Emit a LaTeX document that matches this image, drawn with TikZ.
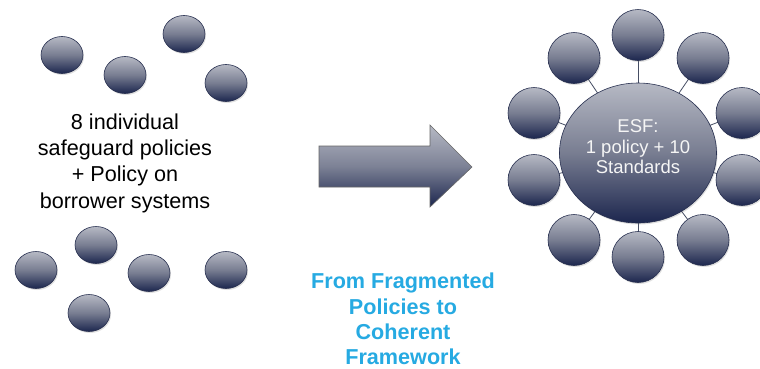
\documentclass[tikz,border=0pt]{standalone}
\usepackage{fontspec}
\setmainfont{Liberation Sans}
\usetikzlibrary{shapes.geometric,shadows}
\definecolor{navy}{RGB}{28,38,78}
\definecolor{lite}{RGB}{182,185,196}
\definecolor{edgec}{RGB}{40,48,80}
\definecolor{skyblue}{RGB}{38,170,226}
\definecolor{linkc}{RGB}{70,78,100}
\tikzset{
  blob/.style={ellipse, draw=edgec, line width=0.6pt, top color=lite, bottom color=navy,
    middle color={rgb,255:red,120;green,125;blue,145}, inner sep=0pt,
    drop shadow={shadow xshift=1pt, shadow yshift=-1.5pt, opacity=0.25}},
  small/.style={blob, minimum width=42pt, minimum height=37pt},
  sat/.style={blob, minimum width=52pt, minimum height=51pt},
  hub/.style={blob, minimum width=157pt, minimum height=140pt},
  hubtxt/.style={align=center, text=white!92!gray, font=\fontsize{18.5}{20.5}\selectfont},
  link/.style={draw=linkc, line width=0.8pt},
  bigarrow/.style={draw=gray!80!black, line width=0.6pt, top color=lite, bottom color=navy,
    middle color={rgb,255:red,125;green,130;blue,150}}
}
\begin{document}
\begin{tikzpicture}[x=1pt,y=-1pt]
\path[use as bounding box, fill=white] (0,0) rectangle (760,368);
% left scattered ellipses
\node[small] (l1) at (62,55) {};
\node[small] (l2) at (184,34) {};
\node[small] (l3) at (125,75) {};
\node[small] (l4) at (226,83) {};
\node[small] (l5) at (96,245) {};
\node[small] (l6) at (36,270) {};
\node[small] (l7) at (149,273) {};
\node[small] (l8) at (226,270) {};
\node[small] (l9) at (89,313) {};
\node[align=center, font=\fontsize{21.6}{26.3}\selectfont, text=black] (ltext) at (125,163)
  {8 individual\\safeguard policies\\+ Policy on\\borrower systems};
% arrow
\path[bigarrow] (319,146) -- (430,146) -- (430,125) -- (472,167) -- (430,207) -- (430,187) -- (319,187) -- cycle;
% blue caption
\node[align=center, font=\bfseries\fontsize{21.6}{25.4}\selectfont, text=skyblue, inner sep=1pt] (cap) at (403,319)
  {From Fragmented\\Policies to\\Coherent\\Framework};
% right: hub with satellites
\coordinate (hc) at (638,153);
\coordinate (s1) at (638,35);
\coordinate (s2) at (703,58);
\coordinate (s3) at (742,113);
\coordinate (s4) at (742,180);
\coordinate (s5) at (703,240);
\coordinate (s6) at (638,257);
\coordinate (s7) at (574,240);
\coordinate (s8) at (534,180);
\coordinate (s9) at (534,113);
\coordinate (s10) at (574,58);
\foreach \i in {1,...,10} \draw[link] (hc) -- (s\i);
\foreach \i in {1,...,10} \node[sat] (n\i) at (s\i) {};
\node[hub] (hub) at (hc) {};
\node[hubtxt] (hubtext) at (638,147) {ESF:\\1 policy + 10\\Standards};
\end{tikzpicture}
\end{document}
